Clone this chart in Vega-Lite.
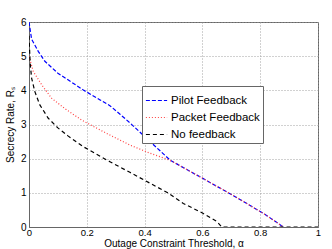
{
  "$schema": "https://vega.github.io/schema/vega-lite/v6.json",
  "width": 289,
  "height": 205,
  "autosize": "none",
  "padding": {"left": 29, "top": 22, "right": 14, "bottom": 22},
  "background": "white",
  "config": {
    "font": "Liberation Sans",
    "view": {"stroke": "#666", "strokeWidth": 1}
  },
  "data": {"values": [
    {"series": "Pilot Feedback", "alpha": 0, "rate": 6.0},
    {"series": "Pilot Feedback", "alpha": 0.009, "rate": 5.5},
    {"series": "Pilot Feedback", "alpha": 0.032, "rate": 5.14},
    {"series": "Pilot Feedback", "alpha": 0.055, "rate": 4.85},
    {"series": "Pilot Feedback", "alpha": 0.1, "rate": 4.5},
    {"series": "Pilot Feedback", "alpha": 0.147, "rate": 4.24},
    {"series": "Pilot Feedback", "alpha": 0.188, "rate": 4.01},
    {"series": "Pilot Feedback", "alpha": 0.246, "rate": 3.72},
    {"series": "Pilot Feedback", "alpha": 0.28, "rate": 3.55},
    {"series": "Pilot Feedback", "alpha": 0.315, "rate": 3.3},
    {"series": "Pilot Feedback", "alpha": 0.349, "rate": 3.05},
    {"series": "Pilot Feedback", "alpha": 0.419, "rate": 2.5},
    {"series": "Pilot Feedback", "alpha": 0.488, "rate": 1.96},
    {"series": "Pilot Feedback", "alpha": 0.546, "rate": 1.68},
    {"series": "Pilot Feedback", "alpha": 0.6, "rate": 1.43},
    {"series": "Pilot Feedback", "alpha": 0.65, "rate": 1.19},
    {"series": "Pilot Feedback", "alpha": 0.707, "rate": 0.92},
    {"series": "Pilot Feedback", "alpha": 0.765, "rate": 0.63},
    {"series": "Pilot Feedback", "alpha": 0.822, "rate": 0.34},
    {"series": "Pilot Feedback", "alpha": 0.88, "rate": 0},
    {"series": "Packet Feedback", "alpha": 0, "rate": 5.0},
    {"series": "Packet Feedback", "alpha": 0.015, "rate": 4.55},
    {"series": "Packet Feedback", "alpha": 0.044, "rate": 4.16},
    {"series": "Packet Feedback", "alpha": 0.078, "rate": 3.77},
    {"series": "Packet Feedback", "alpha": 0.125, "rate": 3.46},
    {"series": "Packet Feedback", "alpha": 0.182, "rate": 3.13},
    {"series": "Packet Feedback", "alpha": 0.246, "rate": 2.84},
    {"series": "Packet Feedback", "alpha": 0.28, "rate": 2.69},
    {"series": "Packet Feedback", "alpha": 0.349, "rate": 2.4},
    {"series": "Packet Feedback", "alpha": 0.419, "rate": 2.16},
    {"series": "Packet Feedback", "alpha": 0.476, "rate": 1.99},
    {"series": "Packet Feedback", "alpha": 0.5, "rate": 1.9},
    {"series": "Packet Feedback", "alpha": 0.546, "rate": 1.68},
    {"series": "Packet Feedback", "alpha": 0.6, "rate": 1.43},
    {"series": "Packet Feedback", "alpha": 0.65, "rate": 1.19},
    {"series": "Packet Feedback", "alpha": 0.707, "rate": 0.92},
    {"series": "Packet Feedback", "alpha": 0.765, "rate": 0.63},
    {"series": "Packet Feedback", "alpha": 0.822, "rate": 0.34},
    {"series": "Packet Feedback", "alpha": 0.88, "rate": 0},
    {"series": "No feedback", "alpha": 0, "rate": 5.6},
    {"series": "No feedback", "alpha": 0.004, "rate": 4.8},
    {"series": "No feedback", "alpha": 0.009, "rate": 4.36},
    {"series": "No feedback", "alpha": 0.02, "rate": 3.97},
    {"series": "No feedback", "alpha": 0.037, "rate": 3.58},
    {"series": "No feedback", "alpha": 0.066, "rate": 3.19},
    {"series": "No feedback", "alpha": 0.1, "rate": 2.9},
    {"series": "No feedback", "alpha": 0.136, "rate": 2.66},
    {"series": "No feedback", "alpha": 0.188, "rate": 2.35},
    {"series": "No feedback", "alpha": 0.246, "rate": 2.07},
    {"series": "No feedback", "alpha": 0.28, "rate": 1.91},
    {"series": "No feedback", "alpha": 0.349, "rate": 1.6},
    {"series": "No feedback", "alpha": 0.419, "rate": 1.28},
    {"series": "No feedback", "alpha": 0.48, "rate": 1.0},
    {"series": "No feedback", "alpha": 0.534, "rate": 0.69},
    {"series": "No feedback", "alpha": 0.6, "rate": 0.41},
    {"series": "No feedback", "alpha": 0.65, "rate": 0.16},
    {"series": "No feedback", "alpha": 0.667, "rate": 0},
    {"series": "No feedback", "alpha": 1.0, "rate": 0}
  ]},
  "mark": {"type": "line", "strokeWidth": 1.2, "clip": true},
  "encoding": {
    "x": {
      "field": "alpha", "type": "quantitative",
      "scale": {"domain": [0, 1], "nice": false},
      "axis": {
        "title": "Outage Constraint Threshold, α",
        "values": [0, 0.2, 0.4, 0.6, 0.8, 1],
        "format": "~g",
        "grid": true, "gridDash": [1, 2], "gridColor": "#999", "gridOpacity": 0.9,
        "ticks": false, "domainColor": "#666",
        "labelFontSize": 9.5, "labelColor": "#000", "labelPadding": 0,
        "titleFontSize": 10, "titleFontWeight": "normal", "titleColor": "#000",
        "titleY": 19.5, "titleBaseline": "alphabetic",
        "labelFlush": false
      }
    },
    "y": {
      "field": "rate", "type": "quantitative",
      "scale": {"domain": [0, 6], "nice": false},
      "axis": {
        "title": "Secrecy Rate, Rₛ",
        "values": [0, 1, 2, 3, 4, 5, 6],
        "grid": true, "gridDash": [1, 2], "gridColor": "#999", "gridOpacity": 0.9,
        "ticks": false, "domainColor": "#666",
        "labelFontSize": 10, "labelColor": "#000", "labelPadding": 3,
        "titleFontSize": 10, "titleFontWeight": "normal", "titleColor": "#000", "titlePadding": 5,
        "labelFlush": false
      }
    },
    "color": {
      "field": "series", "type": "nominal",
      "scale": {"domain": ["Pilot Feedback", "Packet Feedback", "No feedback"], "range": ["#0000ff", "#ff4040", "#000000"]},
      "legend": {
        "title": null, "orient": "none", "legendX": 113, "legendY": 64,
        "symbolType": "stroke", "symbolSize": 450, "symbolStrokeWidth": 1.2,
        "labelFontSize": 11.5, "labelColor": "#000", "labelOffset": 3,
        "fillColor": "white", "strokeColor": "#666", "padding": 3, "rowPadding": 0
      }
    },
    "strokeDash": {
      "field": "series", "type": "nominal",
      "scale": {"domain": ["Pilot Feedback", "Packet Feedback", "No feedback"], "range": [[4, 2], [1, 2], [4, 3]]},
      "legend": null
    },
    "order": {"field": "alpha", "type": "quantitative"}
  }
}
